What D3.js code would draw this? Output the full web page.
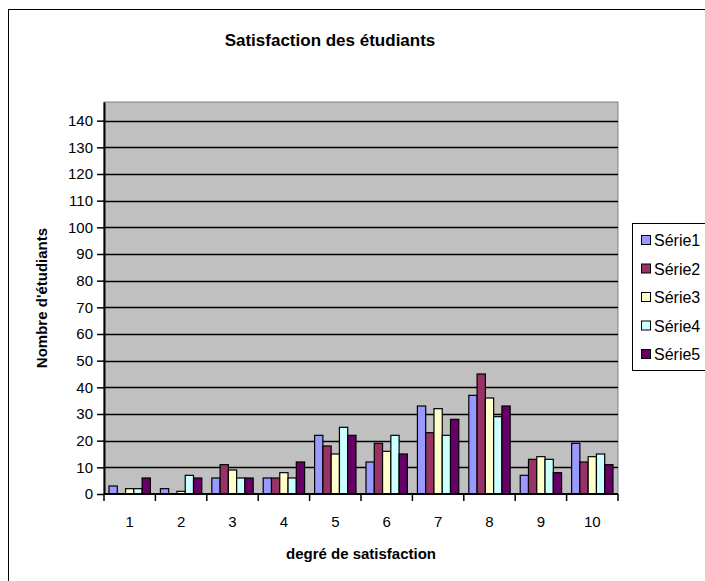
<!DOCTYPE html>
<html><head><meta charset="utf-8">
<script src="https://cdn.jsdelivr.net/npm/d3@7"></script>
<style>body{margin:0;background:#fff}svg{display:block;font-family:Arial,"Liberation Sans",sans-serif}</style>
</head><body><svg id="c" width="705" height="581"></svg>
<script>
const categories = ["1","2","3","4","5","6","7","8","9","10"];
const seriesNames = ["Série1","Série2","Série3","Série4","Série5"];
const serie1 = [3,2,6,6,22,12,33,37,7,19];
const serie2 = [0,0,11,6,18,19,23,45,13,12];
const serie3 = [2,1,9,8,15,16,32,36,14,14];
const serie4 = [2,7,6,6,25,22,22,29,13,15];
const serie5 = [6,6,6,12,22,15,28,33,8,11];
const yTicks = [0,10,20,30,40,50,60,70,80,90,100,110,120,130,140];
const colors = ["#9999FF","#993366","#FFFFCC","#CCFFFF","#660066"];
const allSeries = [serie1,serie2,serie3,serie4,serie5];

const svg = d3.select("#c");
const L=104, R=618, T=102, B=494;

// outer frame
svg.append("rect").attr("x",8.5).attr("y",9.5).attr("width",760).attr("height",640)
  .attr("fill","#fff").attr("stroke","#000").attr("stroke-width",1);

svg.append("text").attr("x",330).attr("y",46).attr("text-anchor","middle")
  .attr("font-size",17).attr("font-weight","bold").text("Satisfaction des étudiants");

const x0 = d3.scaleBand().domain(categories).range([L,R]).paddingInner(0.195).paddingOuter(0.0975);
const x1 = d3.scaleBand().domain(seriesNames).range([0,x0.bandwidth()]);
const y = d3.scaleLinear().domain([0,147]).range([B,T]);

svg.append("rect").attr("x",L).attr("y",T).attr("width",R-L).attr("height",B-T)
  .attr("fill","#C0C0C0").attr("stroke","#808080").attr("stroke-width",1);

// gridlines
svg.append("g").selectAll("line").data(yTicks.filter(d=>d>0)).join("line")
  .attr("x1",L).attr("x2",R).attr("y1",d=>Math.round(y(d))+0.5).attr("y2",d=>Math.round(y(d))+0.5)
  .attr("stroke","#000").attr("stroke-width",1.5);

// bars
const g = svg.append("g");
categories.forEach((c,i)=>{
  seriesNames.forEach((s,j)=>{
    const v = allSeries[j][i];
    g.append("rect").attr("x",x0(c)+x1(s)).attr("y",y(v)).attr("width",x1.bandwidth())
      .attr("height",B-y(v)).attr("fill",colors[j]).attr("stroke","#000").attr("stroke-width",1.2);
  });
});

// y axis
const yAxis = d3.axisLeft(y).tickValues(yTicks).tickSize(7).tickSizeOuter(0);
const ya = svg.append("g").attr("transform",`translate(${L},0)`).call(yAxis);
ya.select(".domain").attr("stroke","#000").attr("stroke-width",2);
ya.selectAll(".tick line").attr("stroke","#000").attr("stroke-width",1.5);
ya.selectAll(".tick text").attr("font-size",15).attr("fill","#000").attr("x",-11).attr("font-family","Arial, Liberation Sans, sans-serif");

// x axis baseline with boundary ticks
const xa = svg.append("g");
xa.append("line").attr("x1",L).attr("x2",R).attr("y1",B).attr("y2",B).attr("stroke","#000").attr("stroke-width",2);
const step = (R-L)/categories.length;
d3.range(categories.length+1).forEach(k=>{
  xa.append("line").attr("x1",L+k*step).attr("x2",L+k*step).attr("y1",B).attr("y2",B+7)
    .attr("stroke","#000").attr("stroke-width",1.5);
});
xa.selectAll("text").data(categories).join("text")
  .attr("x",d=>x0(d)+x0.bandwidth()/2).attr("y",527).attr("text-anchor","middle")
  .attr("font-size",15).text(d=>d);

svg.append("text").attr("x",361).attr("y",559).attr("text-anchor","middle")
  .attr("font-size",15).attr("font-weight","bold").text("degré de satisfaction");
svg.append("text").attr("transform","translate(47,298) rotate(-90)").attr("text-anchor","middle")
  .attr("font-size",15).attr("font-weight","bold").text("Nombre d'étudiants");

// legend
const lg = svg.append("g");
lg.append("rect").attr("x",632.5).attr("y",223.5).attr("width",100).attr("height",147)
  .attr("fill","#fff").attr("stroke","#000").attr("stroke-width",1);
seriesNames.forEach((s,j)=>{
  const cy = 240 + j*28.5;
  lg.append("rect").attr("x",641.5).attr("y",cy-4.5).attr("width",9).attr("height",9)
    .attr("fill",colors[j]).attr("stroke","#000").attr("stroke-width",1);
  lg.append("text").attr("x",654).attr("y",cy+6).attr("font-size",16).text(s);
});
</script></body></html>
